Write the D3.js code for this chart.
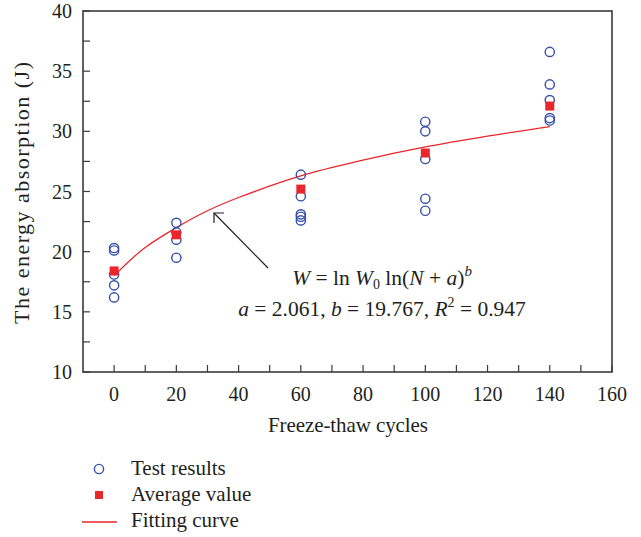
<!DOCTYPE html>
<html><head><meta charset="utf-8">
<script src="https://cdn.jsdelivr.net/npm/d3@7"></script>
<style>body{margin:0;background:#fff}svg{display:block}text{font-family:"Liberation Serif","Times New Roman",serif;fill:#231f20}</style>
</head><body>
<svg id="c" width="641" height="537"></svg>
<script>
// Data
const testN = [0,0,0,0,0, 20,20,20,20, 60,60,60,60,60, 100,100,100,100,100, 140,140,140,140,140];
const testW = [20.3,20.1,18.1,17.2,16.2, 22.4,21.6,21.0,19.5, 26.4,24.6,23.1,22.9,22.6, 30.8,30.0,27.7,24.4,23.4, 36.6,33.9,32.6,31.1,30.9];
const avgN = [0,20,60,100,140];
const avgW = [18.4,21.4,25.2,28.2,32.1];
const fitN = [0,5,10,20,30,40,60,80,100,120,140];
const fitW = [18.0,19.25,20.35,22.0,23.4,24.5,26.3,27.6,28.7,29.6,30.4];
const xTicks = [0,20,40,60,80,100,120,140,160];
const yTicks = [10,15,20,25,30,35,40];

const svg = d3.select("#c");
const L=83,R=612,T=11,B=372;
const x = d3.scaleLinear().domain([-10,160]).range([L,R]);
const y = d3.scaleLinear().domain([10,40]).range([B,T]);
const axisCol="#3a3a3a";

const xt = d3.range(0,161,10), yt = d3.range(10,40.01,2.5);
svg.append("g").selectAll("line").data(xt).join("line")
  .attr("x1",d=>x(d)).attr("x2",d=>x(d)).attr("y1",B).attr("y2",B-7)
  .attr("stroke",axisCol).attr("stroke-width",1.2);
svg.append("g").selectAll("line").data(yt).join("line")
  .attr("x1",L).attr("x2",L+7).attr("y1",d=>y(d)).attr("y2",d=>y(d))
  .attr("stroke",axisCol).attr("stroke-width",1.2);
svg.append("rect").attr("x",L).attr("y",T).attr("width",R-L).attr("height",B-T)
  .attr("fill","none").attr("stroke",axisCol).attr("stroke-width",1.6);

svg.append("g").selectAll("text").data(xTicks).join("text")
  .attr("x",d=>x(d)).attr("y",401).attr("text-anchor","middle").attr("font-size",20).text(d=>d);
svg.append("g").selectAll("text").data(yTicks).join("text")
  .attr("x",72).attr("y",d=>y(d)+7).attr("text-anchor","end").attr("font-size",20).text(d=>d);

svg.append("text").attr("x",348).attr("y",432).attr("text-anchor","middle").attr("font-size",21)
  .attr("textLength",160).attr("lengthAdjust","spacing").text("Freeze-thaw cycles");
svg.append("text").attr("transform","translate(29,193) rotate(-90)").attr("text-anchor","middle").attr("font-size",22)
  .attr("textLength",262).attr("lengthAdjust","spacing").text("The energy absorption (J)");

const red="#e8262b", blue="#3550a8";
const line = d3.line().x(d=>x(d[0])).y(d=>y(d[1])).curve(d3.curveCatmullRom);
svg.append("path").datum(fitN.map((n,i)=>[n,fitW[i]])).attr("d",line)
  .attr("fill","none").attr("stroke",red).attr("stroke-width",1.3);

svg.append("g").selectAll("circle").data(testN.map((n,i)=>[n,testW[i]])).join("circle")
  .attr("cx",d=>x(d[0])).attr("cy",d=>y(d[1])).attr("r",4.6)
  .attr("fill","none").attr("stroke",blue).attr("stroke-width",1.4);
svg.append("g").selectAll("rect").data(avgN.map((n,i)=>[n,avgW[i]])).join("rect")
  .attr("x",d=>x(d[0])-4.5).attr("y",d=>y(d[1])-4.5).attr("width",9).attr("height",9).attr("fill",red);

svg.append("line").attr("x1",268).attr("y1",268).attr("x2",214).attr("y2",213).attr("stroke","#231f20").attr("stroke-width",1.2);
svg.append("path").attr("d","M224,213 L214,213 L214,223").attr("fill","none").attr("stroke","#231f20").attr("stroke-width",1.2);

const eq = svg.append("text").attr("x",382).attr("y",285).attr("text-anchor","middle").attr("font-size",21.5);
eq.append("tspan").attr("font-style","italic").text("W");
eq.append("tspan").text(" = ln ");
eq.append("tspan").attr("font-style","italic").text("W");
eq.append("tspan").attr("font-size",14).attr("dy",4).text("0");
eq.append("tspan").attr("dy",-4).text(" ln(");
eq.append("tspan").attr("font-style","italic").text("N");
eq.append("tspan").text(" + ");
eq.append("tspan").attr("font-style","italic").text("a");
eq.append("tspan").text(")");
eq.append("tspan").attr("font-style","italic").attr("font-size",15).attr("dy",-9).text("b");

const eq2 = svg.append("text").attr("x",382).attr("y",316).attr("text-anchor","middle").attr("font-size",21.5);
eq2.append("tspan").attr("font-style","italic").text("a");
eq2.append("tspan").text(" = 2.061, ");
eq2.append("tspan").attr("font-style","italic").text("b");
eq2.append("tspan").text(" = 19.767, ");
eq2.append("tspan").attr("font-style","italic").text("R");
eq2.append("tspan").attr("font-size",14).attr("dy",-9).text("2");
eq2.append("tspan").attr("dy",9).text(" = 0.947");

svg.append("circle").attr("cx",99).attr("cy",469).attr("r",4.6).attr("fill","none").attr("stroke",blue).attr("stroke-width",1.4);
svg.append("rect").attr("x",95).attr("y",491).attr("width",8).attr("height",8).attr("fill",red);
svg.append("line").attr("x1",82).attr("x2",117).attr("y1",522).attr("y2",522).attr("stroke",red).attr("stroke-width",1.3);
const legT = ["Test results","Average value","Fitting curve"];
svg.append("g").selectAll("text").data(legT).join("text")
  .attr("x",131).attr("y",(d,i)=>475+i*26).attr("font-size",21).text(d=>d);
</script>
</body></html>
